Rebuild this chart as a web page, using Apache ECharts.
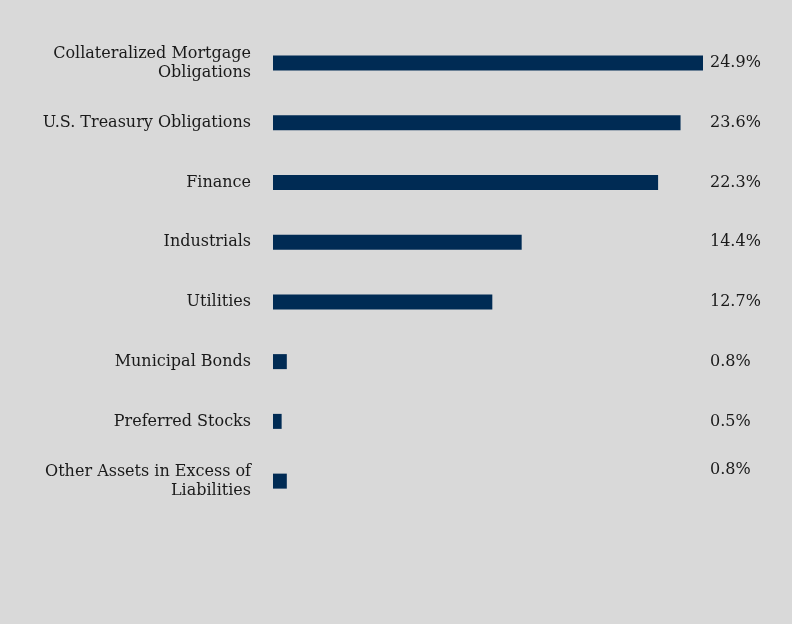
<!DOCTYPE html>
<html>
<head>
<meta charset="utf-8">
<script src="https://cdn.jsdelivr.net/npm/echarts@6/dist/echarts.min.js"></script>
<style>
  html, body { margin: 0; padding: 0; background: #d9d9d9; }
  #main { width: 792px; height: 624px; }
</style>
</head>
<body>
<div id="main"></div>
<script>
  // categories from top to bottom
  var categories = [
    'Collateralized Mortgage\nObligations',
    'U.S. Treasury Obligations',
    'Finance',
    'Industrials',
    'Utilities',
    'Municipal Bonds',
    'Preferred Stocks',
    'Other Assets in Excess of\nLiabilities'
  ];
  var values = [24.9, 23.6, 22.3, 14.4, 12.7, 0.8, 0.5, 0.8];

  var font = 'DejaVu Serif';
  var myChart = echarts.init(document.getElementById('main'));
  var option = {
    backgroundColor: '#d9d9d9',
    animation: false,
    grid: { left: 273, right: 89, top: 33, bottom: 113, containLabel: false },
    xAxis: {
      type: 'value', min: 0, max: 24.9,
      show: false
    },
    yAxis: [
      {
        type: 'category', inverse: true, data: categories,
        axisLine: { show: false }, axisTick: { show: false },
        axisLabel: { color: '#1a1a1a', fontFamily: font, fontSize: 16, margin: 22, align: 'right', lineHeight: 19 }
      },
      {
        type: 'category', inverse: true, position: 'right',
        data: values.map(function (v, i) {
          // last label sits on the first text line in the original
          return v.toFixed(1) + '%' + (i === values.length - 1 ? '\n ' : '');
        }),
        axisLine: { show: false }, axisTick: { show: false },
        axisLabel: { color: '#1a1a1a', fontFamily: font, fontSize: 16, margin: 7, align: 'left', lineHeight: 22 }
      }
    ],
    series: [
      {
        type: 'bar', data: values, barWidth: 15,
        itemStyle: { color: '#002b54' }
      }
    ]
  };
  myChart.setOption(option);
</script>
</body>
</html>
